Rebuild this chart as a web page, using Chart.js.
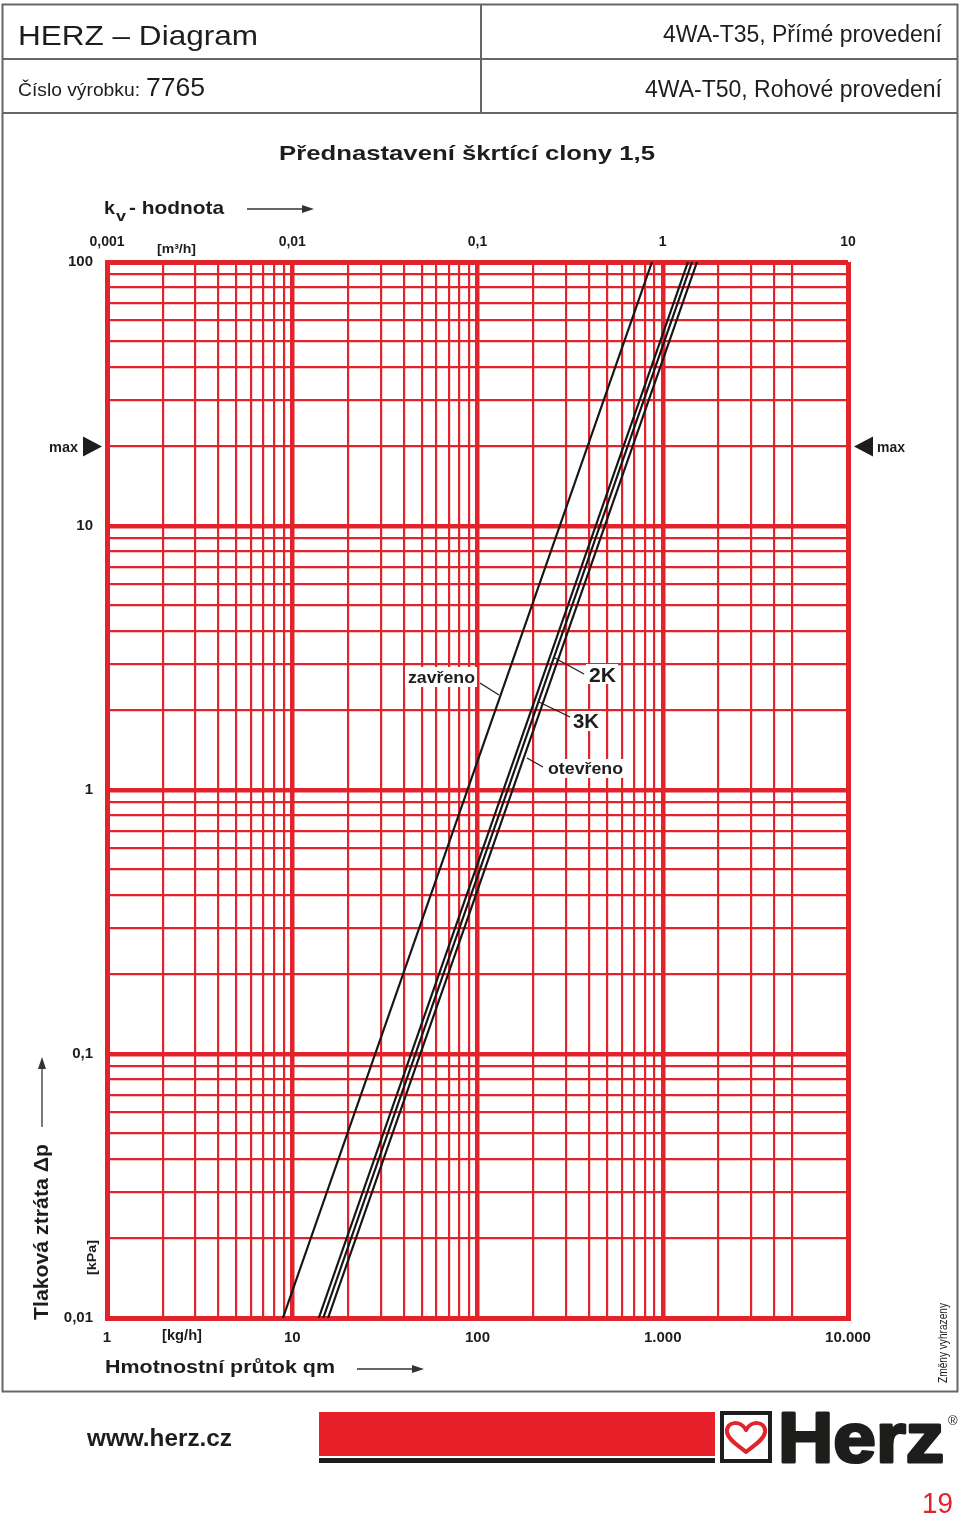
<!DOCTYPE html>
<html>
<head>
<meta charset="utf-8">
<title>HERZ - Diagram 7765</title>
<script src="https://cdn.jsdelivr.net/npm/chart.js@4"></script>
<style>
  html, body { margin: 0; padding: 0; background: #fff; }
  canvas { display: block; }
</style>
</head>
<body>
<canvas id="herz-chart" width="960" height="1516"></canvas>
<script>
const RED = '#e3232b';
const INK = '#1d1d1b';
const FONT = '"Liberation Sans", Arial, Helvetica, sans-serif';

// Flow axis (kg/h) - grid lines and labelled decades
const flowGrid = [1, 2, 3, 4, 5, 6, 7, 8, 9, 10, 20, 30, 40, 50, 60, 70, 80, 90,
  100, 200, 300, 400, 500, 600, 700, 800, 900, 1000, 2000, 3000, 4000, 5000, 10000];
const flowTicks = [1, 10, 100, 1000, 10000];
const flowLabels = ['1', '10', '100', '1.000', '10.000'];

// Pressure loss axis (kPa)
const dpGrid = [0.01, 0.02, 0.03, 0.04, 0.05, 0.06, 0.07, 0.08, 0.09, 0.1, 0.2, 0.3, 0.4, 0.5,
  0.6, 0.7, 0.8, 0.9, 1, 2, 3, 4, 5, 6, 7, 8, 9, 10, 20, 30, 40, 50, 60, 70, 80, 90, 100];
const dpTicks = [0.01, 0.1, 1, 10, 100];
const dpLabels = ['0,01', '0,1', '1', '10', '100'];
const dpMax = 20;

// kv axis (m3/h) along the top
const kvTicks = [0.001, 0.01, 0.1, 1, 10];
const kvLabels = ['0,001', '0,01', '0,1', '1', '10'];

// Valve curves: flow (kg/h) read at 0,01 kPa and at 100 kPa
const curveNames = ['zavřeno', '2K', '3K', 'otevřeno'];
const dpEnds = [0.01, 100];
const flowAtLowDp = [8.9, 13.9, 14.7, 15.6];
const flowAtHighDp = [875, 1368, 1439, 1531];


// helpers for the page drawing

function text(c, s, x, y, font, o = {}) {
  c.save();
  c.font = font;
  c.fillStyle = o.color || INK;
  c.textBaseline = o.base || 'alphabetic';
  c.textAlign = o.align || 'left';
  const w = c.measureText(s).width;
  c.translate(x, y);
  if (o.rot) c.rotate(o.rot);
  if (o.width) c.scale(o.width / w, 1);
  c.fillText(s, 0, 0);
  c.restore();
}

function line(c, x1, y1, x2, y2, w, col) {
  c.save();
  c.strokeStyle = col || INK;
  c.lineWidth = w;
  c.beginPath();
  c.moveTo(x1, y1);
  c.lineTo(x2, y2);
  c.stroke();
  c.restore();
}

function arrow(c, x1, y1, x2, y2) {
  const a = Math.atan2(y2 - y1, x2 - x1);
  line(c, x1, y1, x2 - 8 * Math.cos(a), y2 - 8 * Math.sin(a), 1.3, '#333');
  c.save();
  c.fillStyle = '#333';
  c.translate(x2, y2);
  c.rotate(a);
  c.beginPath();
  c.moveTo(0, 0);
  c.lineTo(-12, -4);
  c.lineTo(-12, 4);
  c.closePath();
  c.fill();
  c.restore();
}

function knockout(c, x, y, w, h) {
  c.save();
  c.fillStyle = '#fff';
  c.fillRect(x, y, w, h);
  c.restore();
}

const pagePlugin = {
  id: 'page',
  beforeDraw(chart) {
    const c = chart.ctx;
    c.save();
    c.fillStyle = '#fff';
    c.fillRect(0, 0, chart.width, chart.height);
    c.restore();
  },
  afterDraw(chart) {
    const c = chart.ctx;
    const ys = chart.scales.y;
    const area = chart.chartArea;

    // header frame
    c.save();
    c.strokeStyle = '#666';
    c.lineWidth = 2;
    c.strokeRect(2.5, 4.5, 955, 1387);
    c.restore();
    line(c, 2, 59, 958, 59, 2, '#666');
    line(c, 2, 113, 958, 113, 2, '#666');
    line(c, 481, 4, 481, 113, 2, '#666');

    text(c, 'HERZ – Diagram', 18, 45, '28px ' + FONT, { width: 240 });
    text(c, 'Číslo výrobku:', 18, 96, '19px ' + FONT, { width: 122 });
    text(c, '7765', 146, 96, '26px ' + FONT, { width: 59 });
    text(c, '4WA-T35, Přímé provedení', 942, 42, '23px ' + FONT, { align: 'right', width: 279 });
    text(c, '4WA-T50, Rohové provedení', 942, 97, '23px ' + FONT, { align: 'right', width: 297 });

    // title
    text(c, 'Přednastavení škrtící clony 1,5', 467, 160, 'bold 21px ' + FONT, { align: 'center', width: 376 });

    // kv axis caption
    text(c, 'k', 104, 214, 'bold 19px ' + FONT, { width: 11 });
    text(c, 'v', 116, 221, 'bold 14px ' + FONT, { width: 10 });
    text(c, '- hodnota', 129, 214, 'bold 19px ' + FONT, { width: 95 });
    arrow(c, 247, 209, 314, 209);
    text(c, '[m³/h]', 157, 253, 'bold 13px ' + FONT, { width: 39 });

    // flow axis caption
    text(c, '[kg/h]', 162, 1340, 'bold 14px ' + FONT, { width: 40 });
    text(c, 'Hmotnostní průtok qm', 105, 1373, 'bold 19px ' + FONT, { width: 230 });
    arrow(c, 357, 1369, 424, 1369);

    // pressure loss caption (rotated)
    text(c, 'Tlaková ztráta Δp', 48, 1320, 'bold 20px ' + FONT, { rot: -Math.PI / 2, width: 176 });
    arrow(c, 42, 1127, 42, 1057);
    text(c, '[kPa]', 96, 1275, 'bold 13px ' + FONT, { rot: -Math.PI / 2, width: 35 });
    text(c, 'Změny vyhrazeny', 947, 1383, '12px ' + FONT, { rot: -Math.PI / 2, width: 80 });

    // max markers
    const ym = ys.getPixelForValue(dpMax);
    c.save();
    c.fillStyle = INK;
    c.beginPath();
    c.moveTo(area.left - 5, ym);
    c.lineTo(area.left - 24, ym - 10);
    c.lineTo(area.left - 24, ym + 10);
    c.closePath();
    c.fill();
    c.beginPath();
    c.moveTo(area.right + 6, ym);
    c.lineTo(area.right + 25, ym - 10);
    c.lineTo(area.right + 25, ym + 10);
    c.closePath();
    c.fill();
    c.restore();
    text(c, 'max', 49, ym + 5, 'bold 15px ' + FONT, { width: 29 });
    text(c, 'max', 877, ym + 5, 'bold 15px ' + FONT, { width: 28 });

    // curve annotations with leaders
    knockout(c, 405, 667, 72, 20);
    text(c, 'zavřeno', 408, 683, 'bold 17px ' + FONT, { width: 67 });
    line(c, 480, 683, 499, 695, 1.3);

    knockout(c, 586, 664, 32, 20);
    text(c, '2K', 589, 682, 'bold 21px ' + FONT, { width: 27 });
    line(c, 584, 674, 553, 657, 1.3);

    knockout(c, 570, 711, 32, 20);
    text(c, '3K', 573, 728, 'bold 21px ' + FONT, { width: 26 });
    line(c, 570, 717, 539, 702, 1.3);

    knockout(c, 546, 759, 80, 19);
    text(c, 'otevřeno', 548, 774, 'bold 17px ' + FONT, { width: 75 });
    line(c, 543, 767, 527, 758, 1.3);

    // footer
    text(c, 'www.herz.cz', 87, 1446, 'bold 23px ' + FONT, { width: 145 });
    c.save();
    c.fillStyle = '#e8202a';
    c.fillRect(319, 1412, 396, 44);
    c.fillStyle = '#1d1d1b';
    c.fillRect(319, 1458, 396, 5);

    // logo: heart in a box
    c.fillRect(720, 1411, 52, 52);
    c.fillStyle = '#fff';
    c.fillRect(724, 1415, 44, 44);
    c.strokeStyle = RED;
    c.lineWidth = 4;
    c.lineJoin = 'round';
    const cx = 746;
    c.beginPath();
    c.moveTo(cx, 1430);
    c.bezierCurveTo(cx - 5, 1420, cx - 20, 1421, cx - 19, 1432);
    c.bezierCurveTo(cx - 18, 1440, cx - 7, 1446, cx, 1452);
    c.bezierCurveTo(cx + 7, 1446, cx + 18, 1440, cx + 19, 1432);
    c.bezierCurveTo(cx + 20, 1421, cx + 5, 1420, cx, 1430);
    c.closePath();
    c.stroke();
    c.restore();

    c.save();
    c.font = 'bold 71px ' + FONT;
    const hw = c.measureText('Herz').width;
    c.translate(778, 1462);
    c.scale(166 / hw, 1);
    c.fillStyle = INK;
    c.strokeStyle = INK;
    c.lineWidth = 3;
    c.lineJoin = 'round';
    c.fillText('Herz', 0, 0);
    c.strokeText('Herz', 0, 0);
    c.restore();
    text(c, '®', 948, 1425, '13px ' + FONT);

    text(c, '19', 922, 1513, '29px ' + FONT, { color: RED, width: 31 });
  }
};


// scale setup

function majorWidth(list, ends) {
  return (ctx) => {
    const v = ctx.tick ? ctx.tick.value : null;
    if (ends.includes(v)) return 5;
    return list.includes(v) ? 4.5 : 2.2;
  };
}

function labelFrom(values, labels) {
  return (v) => {
    const i = values.indexOf(v);
    return i < 0 ? '' : labels[i];
  };
}

const tickFont = { family: FONT, size: 15, weight: 'bold' };

let ctx = document.getElementById('herz-chart').getContext('2d');

let herzChart = new Chart(ctx, {
  type: 'scatter',
  data: {
    datasets: curveNames.map((name, i) => ({
      label: name,
      data: [
        { x: flowAtLowDp[i], y: dpEnds[0] },
        { x: flowAtHighDp[i], y: dpEnds[1] }
      ],
      showLine: true,
      borderColor: '#161616',
      borderWidth: 2.2,
      pointRadius: 0,
      fill: false
    }))
  },
  options: {
    responsive: false,
    maintainAspectRatio: false,
    animation: false,
    layout: { padding: { left: 0, top: 0, right: 112, bottom: 0 } },
    plugins: {
      legend: { display: false },
      tooltip: { enabled: false }
    },
    scales: {
      x: {
        type: 'logarithmic',
        position: 'bottom',
        min: 1,
        max: 10000,
        afterBuildTicks: (s) => { s.ticks = flowGrid.map(v => ({ value: v })); },
        afterFit: (s) => { s.height = 198; s.paddingLeft = 0; s.paddingRight = 0; },
        grid: { color: RED, lineWidth: majorWidth(flowTicks, [1, 10000]), drawTicks: false },
        border: { color: RED, width: 5 },
        ticks: {
          autoSkip: false, maxRotation: 0, minRotation: 0, padding: 11,
          color: INK, font: tickFont,
          callback: labelFrom(flowTicks, flowLabels)
        }
      },
      kv: {
        type: 'logarithmic',
        position: 'top',
        min: 0.001,
        max: 10,
        afterBuildTicks: (s) => { s.ticks = kvTicks.map(v => ({ value: v })); },
        afterFit: (s) => { s.height = 262; s.paddingLeft = 0; s.paddingRight = 0; },
        grid: { display: false },
        border: { display: false },
        ticks: {
          autoSkip: false, maxRotation: 0, minRotation: 0, padding: 3,
          color: INK, font: { family: FONT, size: 14, weight: 'bold' },
          callback: labelFrom(kvTicks, kvLabels)
        }
      },
      y: {
        type: 'logarithmic',
        position: 'left',
        min: 0.01,
        max: 100,
        afterBuildTicks: (s) => { s.ticks = dpGrid.map(v => ({ value: v })); },
        afterFit: (s) => { s.width = 107; s.paddingTop = 0; s.paddingBottom = 0; },
        grid: { color: RED, lineWidth: majorWidth(dpTicks, [0.01, 100]), drawTicks: false },
        border: { color: RED, width: 5 },
        ticks: {
          autoSkip: false, padding: 14,
          color: INK, font: tickFont,
          callback: labelFrom(dpTicks, dpLabels)
        }
      }
    }
  },
  plugins: [pagePlugin]
});
</script>
</body>
</html>
